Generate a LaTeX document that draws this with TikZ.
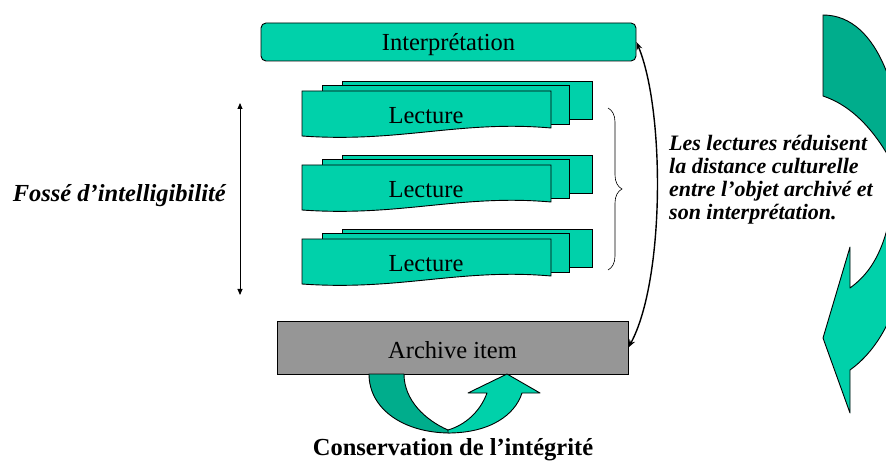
\documentclass[tikz,border=0pt]{standalone}
\usepackage{fontspec}
\setmainfont{Liberation Serif}
\usetikzlibrary{arrows.meta,decorations.pathreplacing}
\definecolor{tealfill}{RGB}{0,209,170}
\definecolor{tealdark}{RGB}{0,173,140}
\definecolor{itemgray}{RGB}{150,150,150}

\begin{document}
\begin{tikzpicture}[x=1pt,y=-1pt,
	sheet/.style={draw=black,fill=tealfill,line width=0.9pt},
	lbl/.style={font=\fontsize{24.5}{29}\selectfont,inner sep=0pt},
	band/.style={draw=black,line width=0.9pt,line join=round},
	conn/.style={line width=1.4pt,{Stealth[length=8pt,width=6pt]}-{Stealth[length=8pt,width=6pt]}}]
	\useasboundingbox (0,0) rectangle (886,462);
	% top and bottom boxes
	\node[sheet,lbl,rounded corners=5pt,minimum width=375pt,minimum height=38pt,
		text height=22pt,text depth=4pt] (interp) at (448.5,42) {Interprétation};
	\node[sheet,lbl,fill=itemgray,minimum width=351pt,minimum height=53pt,
		text height=25pt,text depth=4pt] (archive) at (452.5,347.5) {Archive item};
	% the three stacks of readings
	\foreach \dy [count=\i] in {0,74,148} {
		\draw[sheet] (342,81+\dy) rectangle (592,119+\dy);
		\draw[sheet] (322,85+\dy) rectangle (569,124+\dy);
		\draw[sheet] (302,91+\dy) -- (551,91+\dy) -- (551,128+\dy)
			.. controls (460,120+\dy) and (400,143+\dy) .. (302,136+\dy) -- cycle;
		\node[lbl,anchor=base] (lect\i) at (426,124+\dy) {Lecture};
	}
	\draw[line width=0.6pt,decorate,decoration={brace,amplitude=14pt}] (608,108) -- (608,270);
	\draw[conn] (interp.east) .. controls (665,110) and (665,280) .. (archive.east);
	% gap on the left
	\coordinate (gaptop) at (240,103);
	\coordinate (gapbot) at (240,295);
	\draw[line width=0.9pt,{Triangle[length=6pt,width=5pt]}-{Triangle[length=6pt,width=5pt]}] (gaptop) -- (gapbot);
	\node[lbl,anchor=base east,font=\fontsize{24.5}{29}\selectfont\bfseries\itshape] (gap) at (226,202) {Fossé d’intelligibilité};
	% note on the right
	\node[anchor=base west,inner sep=0pt,align=left,font=\fontsize{22}{23.3}\selectfont\bfseries\itshape] (note) at (669,220)
		{Les lectures réduisent\\la distance culturelle\\entre l’objet archivé et\\son interprétation.};
	% conservation arrow under the archive item
	\draw[band,fill=tealdark] (369,374) .. controls (369,410) and (405,433) .. (450,433)
		-- (448,430) .. controls (425,420) and (404,400) .. (404,374) -- cycle;
	\draw[band,fill=tealfill] (448,433) .. controls (490,433) and (515,415) .. (522,393)
		-- (540,393) -- (507,374) -- (468,393) -- (487,393)
		.. controls (480,412) and (465,425) .. (448,430) -- cycle;
	\node[lbl,anchor=base,font=\fontsize{24.5}{29}\selectfont\bfseries] (cons) at (453,455) {Conservation de l’intégrité};
	% big arrow at the right edge
	\begin{scope}
		\clip (0,0) rectangle (886,462);
		\draw[band,fill=tealdark] (823,15) .. controls (880,15) and (905,100) .. (905,190)
			-- (905,190) .. controls (880,130) and (850,105) .. (823,96) -- cycle;
		\draw[band,fill=tealfill] (895,180) .. controls (890,240) and (875,270) .. (850,288)
			-- (850,247) -- (823,338) -- (850,413) -- (850,370)
			.. controls (875,352) and (895,320) .. (905,270) -- cycle;
	\end{scope}
\end{tikzpicture}
\end{document}
